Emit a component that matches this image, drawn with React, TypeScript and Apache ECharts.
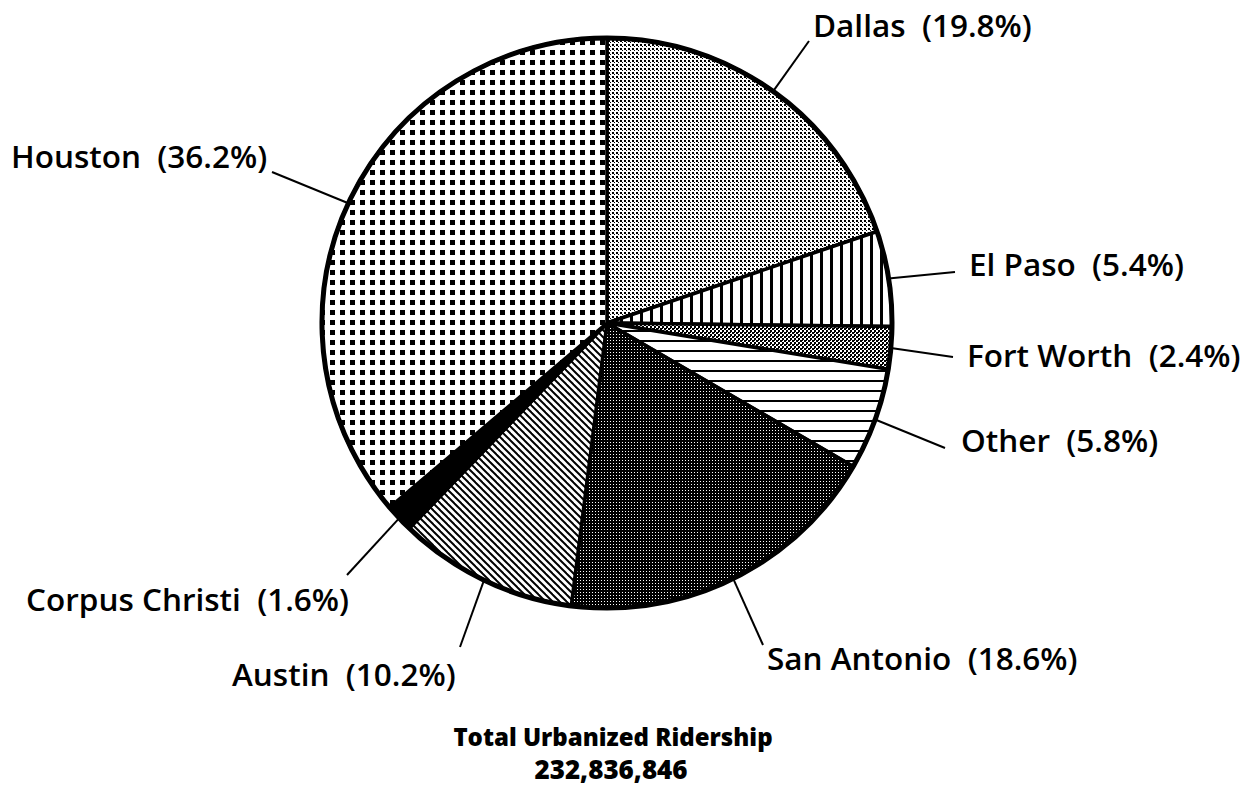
import React, { useEffect, useRef } from 'react';
import * as echarts from 'echarts';

// ---- data ----
const cities = ['Dallas', 'El Paso', 'Fort Worth', 'Other', 'San Antonio', 'Austin', 'Corpus Christi', 'Houston'];
const shares = [19.8, 5.4, 2.4, 5.8, 18.6, 10.2, 1.6, 36.2];
const totalTitle = 'Total Urbanized Ridership';
const totalValue = '232,836,846';

// ---- layout (label anchors: left x, middle y; leader line end points) ----
const labelAnchors: [number, number][] = [
  [813, 24], [969, 263], [967, 354], [961, 439], [767, 657], [232, 673], [26, 598], [11, 155],
];
const leaderEnds: [number, number][] = [
  [809, 41], [955, 272], [953, 357], [945, 448], [763, 645], [460, 647], [347, 575], [272, 172],
];
const fillKinds = ['lightDots', 'vlines', 'medDots', 'hlines', 'darkDots', 'diag', 'solid', 'bigDots'];

const CX = 607;
const CY = 323;
const R = 285;

function makeFill(kind: string): any {
  if (kind === 'solid') return '#000';
  const c = document.createElement('canvas');
  let w = 4, h = 4;
  if (kind === 'vlines') { w = 10; h = 2; }
  if (kind === 'hlines') { w = 2; h = 10; }
  if (kind === 'bigDots') { w = 10; h = 10; }
  if (kind === 'diag') { w = 7; h = 7; }
  if (kind === 'darkDots') { w = 3; h = 3; }
  c.width = w; c.height = h;
  const ctx = c.getContext('2d')!;
  ctx.fillStyle = '#fff';
  ctx.fillRect(0, 0, w, h);
  ctx.fillStyle = '#000';
  switch (kind) {
    case 'lightDots':
      ctx.fillRect(0, 0, 2, 2);
      ctx.fillRect(2, 2, 1, 1);
      break;
    case 'medDots':
      ctx.fillRect(0, 0, 2, 2);
      ctx.fillRect(2, 2, 2, 2);
      ctx.fillRect(2, 0, 1, 1);
      break;
    case 'darkDots':
      ctx.fillRect(0, 0, 3, 3);
      ctx.fillStyle = '#fff';
      ctx.fillRect(1, 1, 1, 1);
      break;
    case 'vlines':
      ctx.fillRect(0, 0, 3, h);
      break;
    case 'hlines':
      ctx.fillRect(0, 0, w, 2);
      break;
    case 'bigDots':
      ctx.fillRect(0, 0, 5, 5);
      break;
    case 'diag':
      ctx.strokeStyle = '#000';
      ctx.lineWidth = 2;
      for (const x0 of [-7, 0, 7]) {
        ctx.beginPath();
        ctx.moveTo(x0 - 1, -1);
        ctx.lineTo(x0 + 8, 8);
        ctx.stroke();
      }
      break;
  }
  return { image: c.toDataURL(), repeat: 'repeat', imageWidth: w, imageHeight: h };
}

export default function App() {
  const ref = useRef<HTMLDivElement>(null);
  useEffect(() => {
    document.body.style.margin = '0';
    const chart = echarts.init(ref.current!, null, { renderer: 'svg' });
    const total = shares.reduce((a, b) => a + b, 0);
    const midAngles: number[] = [];
    let acc = 0;
    shares.forEach((s) => {
      midAngles.push(((acc + s / 2) / total) * Math.PI * 2);
      acc += s;
    });
    const labelFont = { color: '#000', fontFamily: '"Open Sans"', fontWeight: 600, fontSize: 31.5 };
    chart.setOption({
      animation: false,
      backgroundColor: '#fff',
      graphic: [
        {
          type: 'text', x: 613, y: 736,
          style: { text: totalTitle, fill: '#000', font: '800 24px "Open Sans"', align: 'center', verticalAlign: 'middle' },
        },
        {
          type: 'text', x: 611, y: 769,
          style: { text: totalValue, fill: '#000', font: '800 26px "Open Sans"', align: 'center', verticalAlign: 'middle' },
        },
      ],
      series: [
        {
          type: 'pie',
          center: [CX, CY],
          radius: [0, R],
          startAngle: 90,
          clockwise: true,
          avoidLabelOverlap: false,
          silent: true,
          emphasis: { disabled: true },
          data: cities.map((n, i) => ({ name: n, value: shares[i], itemStyle: { color: makeFill(fillKinds[i]) } })),
          itemStyle: { borderColor: '#000', borderWidth: 3.5, borderJoin: 'round' },
          label: {
            show: true,
            position: 'outside',
            formatter: (p: any) => `${p.name}  (${p.value}%)`,
            ...labelFont,
          },
          labelLine: { show: true, length: 20, length2: 10, lineStyle: { color: '#000', width: 2 } },
          labelLayout: (params: any) => {
            const i = params.dataIndex;
            const a = midAngles[i];
            const start = params.labelLinePoints && params.labelLinePoints[0]
              ? params.labelLinePoints[0]
              : [CX + R * Math.sin(a), CY - R * Math.cos(a)];
            return {
              x: labelAnchors[i][0],
              y: labelAnchors[i][1],
              align: 'left',
              verticalAlign: 'middle',
              labelLinePoints: [start, leaderEnds[i], leaderEnds[i]],
            };
          },
          z: 2,
        },
        {
          type: 'pie',
          center: [CX, CY],
          radius: [0, R],
          silent: true,
          emphasis: { disabled: true },
          data: [{ name: 'outline', value: 1 }],
          itemStyle: { color: 'rgba(0,0,0,0)', borderColor: '#000', borderWidth: 5 },
          label: { show: false },
          labelLine: { show: false },
          z: 3,
        },
      ],
    });
    return () => chart.dispose();
  }, []);
  return <div ref={ref} style={{ width: 1256, height: 786 }} />;
}
